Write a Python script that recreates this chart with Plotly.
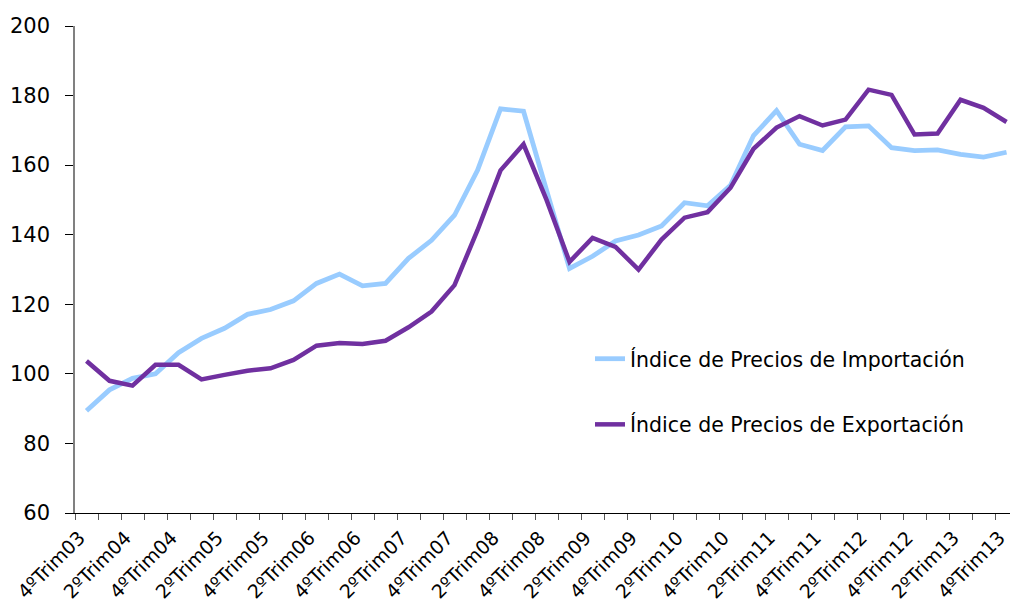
import plotly.graph_objects as go

quarters = []
for yr in range(3, 14):
    for q in (1, 2, 3, 4):
        if yr == 3 and q < 4:
            continue
        quarters.append(f"{q}ºTrim{yr:02d}")

importacion = [89.4, 95.4, 98.7, 100.0, 106.1, 110.2, 113.1, 117.1, 118.5, 121.0,
               126.0, 128.7, 125.3, 126.0, 133.2, 138.4, 145.6, 158.5, 176.2, 175.5,
               152.8, 130.3, 133.8, 138.2, 139.9, 142.5, 149.2, 148.3, 154.2, 168.5,
               175.7, 166.0, 164.2, 171.0, 171.3, 165.0, 164.2, 164.4, 163.1, 162.3,
               163.7]
exportacion = [103.7, 98.0, 96.6, 102.6, 102.6, 98.4, 99.7, 100.9, 101.6, 104.0,
               108.1, 108.9, 108.6, 109.5, 113.4, 117.9, 125.5, 141.3, 158.5, 166.0,
               150.0, 132.2, 139.1, 136.5, 130.0, 138.6, 144.9, 146.5, 153.5, 164.7,
               170.8, 174.1, 171.4, 173.1, 181.7, 180.2, 168.8, 169.1, 178.8, 176.5,
               172.4]

idx = list(range(len(quarters)))
tick_idx = idx[::2]
tick_text = [quarters[i] for i in tick_idx]

font = "DejaVu Sans"

fig = go.Figure()
fig.add_trace(go.Scatter(x=idx, y=importacion, mode="lines",
                         name="Índice de Precios de Importación",
                         legendgroup="a",
                         line=dict(color="#99CCFF", width=4.8)))
fig.add_trace(go.Scatter(x=idx, y=exportacion, mode="lines",
                         name="Índice de Precios de Exportación",
                         legendgroup="b",
                         line=dict(color="#7030A0", width=4.5)))

fig.update_layout(
    width=1010, height=611,
    margin=dict(l=75, r=0, t=26, b=98, autoexpand=False),
    paper_bgcolor="white", plot_bgcolor="white",
    font=dict(family=font, size=20, color="#000000"),
    showlegend=True,
    legend=dict(x=(590 - 75) / 935, y=(513.3 - 339) / 487.5,
                xanchor="left", yanchor="top",
                bgcolor="rgba(0,0,0,0)", tracegroupgap=36,
                font=dict(family=font, size=20.5, color="#000000")),
    xaxis=dict(range=[-0.5, 40.15], tickmode="array", tickvals=tick_idx,
               ticktext=tick_text, tickangle=-45, ticks="",
               automargin=False, ticklabeloverflow="allow",
               ticklabelstandoff=5, ticklabelshift=-7,
               showgrid=False, zeroline=False,
               showline=True, linecolor="#000000", linewidth=1.3,
               minor=dict(ticks="outside", tick0=-0.5, dtick=1, ticklen=6,
                          tickcolor="#555555", tickwidth=1.3, showgrid=False),
               tickfont=dict(family=font, size=19)),
    yaxis=dict(range=[60, 200], dtick=20, tick0=60,
               ticks="outside", ticklen=8, tickcolor="#000000", tickwidth=1,
               automargin=False,
               showgrid=False, zeroline=False,
               showline=True, linecolor="#808080", linewidth=1.5,
               ticklabelstandoff=11,
               tickfont=dict(family=font, size=21)),
)

fig.write_html(
    "out.html",
    config={"displayModeBar": False},
    post_script="document.body.style.margin='0';document.body.style.overflow='hidden';",
)
